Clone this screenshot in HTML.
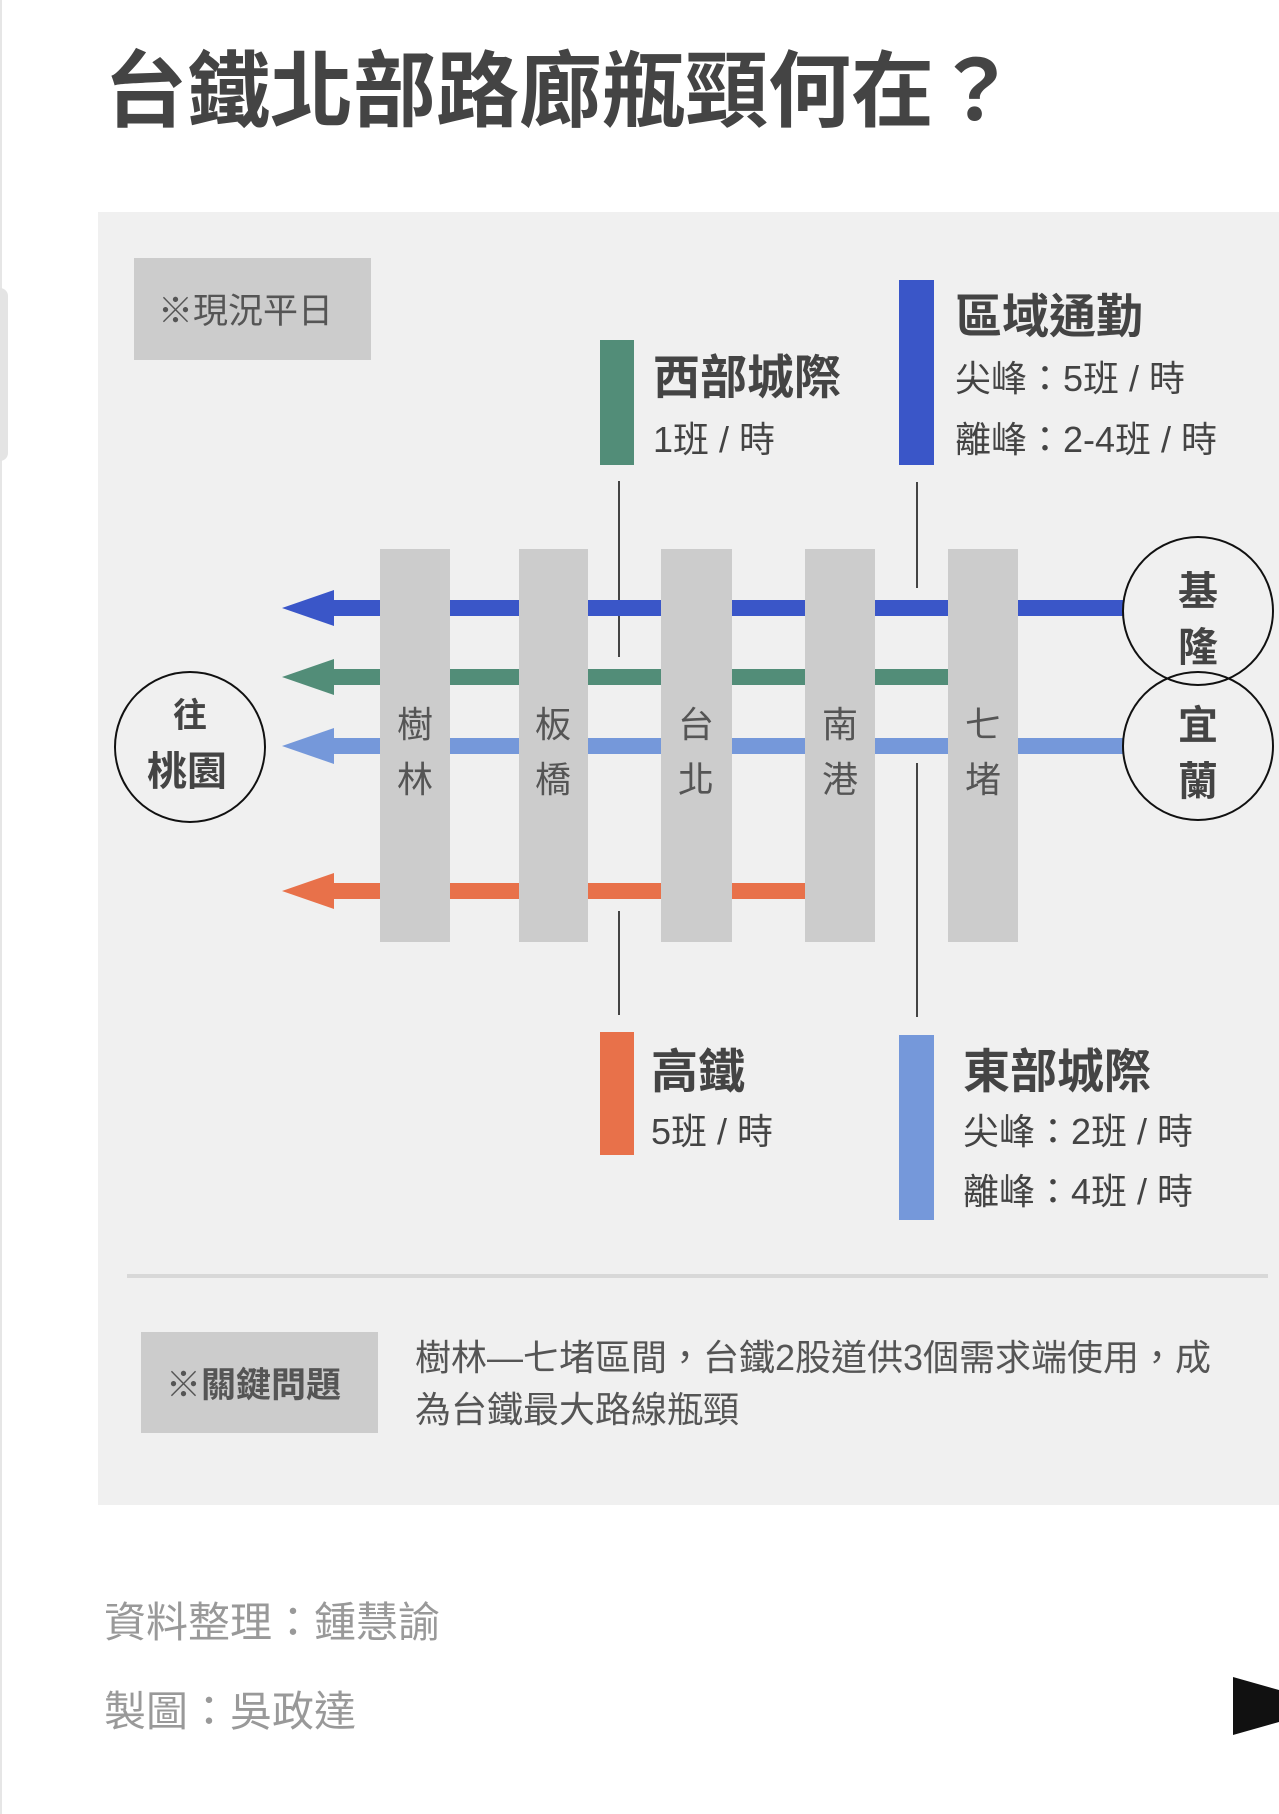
<!DOCTYPE html>
<html><head><meta charset="utf-8"><style>
body{margin:0;width:1279px;height:1814px;background:#fff;position:relative;overflow:hidden;font-family:"Liberation Sans","Noto Sans CJK TC",sans-serif;color:#444}
.a{position:absolute}
.t{position:absolute;white-space:nowrap;line-height:1}
</style></head><body>
<div class="a" style="left:0;top:0;width:2px;height:1814px;background:#e6e6e6"></div>
<div class="a" style="left:0;top:288px;width:8px;height:173px;background:#e4e4e4;border-radius:0 8px 8px 0"></div>
<div class="t" style="left:104px;top:50px;font-size:83px;font-weight:bold;color:#444">台鐵北部路廊瓶頸何在？</div>
<div class="a" style="left:98px;top:212px;width:1181px;height:1293px;background:#f0f0f0"></div>
<div class="a" style="left:134px;top:258px;width:237px;height:102px;background:#cccccc"></div>
<div class="t" style="left:158px;top:294px;font-size:35px;color:#555">※現況平日</div>
<svg class="a" style="left:0;top:0" width="1279" height="1814">
<g stroke="#444" stroke-width="2">
<line x1="619" y1="481" x2="619" y2="657"/><line x1="917" y1="482" x2="917" y2="588"/>
<line x1="619" y1="911" x2="619" y2="1015"/><line x1="917" y1="763" x2="917" y2="1017"/>
</g>
<rect x="332" y="600" width="792" height="16" fill="#3a56c8"/><polygon points="282,608 334,590 334,626" fill="#3a56c8"/>
<rect x="332" y="669" width="616" height="16" fill="#528d78"/><polygon points="282,677 334,659 334,695" fill="#528d78"/>
<rect x="332" y="738" width="792" height="16" fill="#7598da"/><polygon points="282,746 334,728 334,764" fill="#7598da"/>
<rect x="332" y="883" width="473" height="16" fill="#e8714a"/><polygon points="282,891 334,873 334,909" fill="#e8714a"/>
<g fill="#cccccc">
<rect x="380" y="549" width="70" height="393"/><rect x="519" y="549" width="69" height="393"/><rect x="661" y="549" width="71" height="393"/><rect x="805" y="549" width="70" height="393"/><rect x="948" y="549" width="70" height="393"/>
</g>
<g fill="none" stroke="#111" stroke-width="2">
<ellipse cx="190" cy="747" rx="75" ry="75"/>
<ellipse cx="1198" cy="611" rx="75" ry="74"/>
<ellipse cx="1198" cy="746" rx="75" ry="74"/>
</g>
<rect x="600" y="340" width="34" height="125" fill="#528d78"/>
<rect x="899" y="280" width="35" height="185" fill="#3a56c8"/>
<rect x="600" y="1032" width="34" height="123" fill="#e8714a"/>
<rect x="899" y="1035" width="35" height="185" fill="#7598da"/>
<rect x="127" y="1274" width="1141" height="4" fill="#d8d8d8"/>
<polygon points="1233,1677 1279,1690 1279,1722 1233,1735" fill="#111"/>
</svg>
<div class="t" style="left:173px;top:699px;font-size:34px;font-weight:bold">往</div>
<div class="t" style="left:147px;top:752px;font-size:40px;font-weight:bold">桃園</div>
<div class="t" style="left:1178px;top:564px;font-size:40px;font-weight:bold;line-height:56px;width:40px;white-space:normal">基隆</div>
<div class="t" style="left:1178px;top:698px;font-size:40px;font-weight:bold;line-height:56px;width:40px;white-space:normal">宜蘭</div>
<div class="t" style="left:397px;top:697px;font-size:36px;line-height:55px;width:37px;white-space:normal;color:#555">樹林</div>
<div class="t" style="left:535px;top:697px;font-size:36px;line-height:55px;width:37px;white-space:normal;color:#555">板橋</div>
<div class="t" style="left:678px;top:697px;font-size:36px;line-height:55px;width:37px;white-space:normal;color:#555">台北</div>
<div class="t" style="left:822px;top:697px;font-size:36px;line-height:55px;width:37px;white-space:normal;color:#555">南港</div>
<div class="t" style="left:965px;top:697px;font-size:36px;line-height:55px;width:37px;white-space:normal;color:#555">七堵</div>
<div class="t" style="left:653px;top:354px;font-size:47px;font-weight:bold">西部城際</div>
<div class="t" style="left:653px;top:422px;font-size:36px">1班 / 時</div>
<div class="t" style="left:955px;top:293px;font-size:47px;font-weight:bold">區域通勤</div>
<div class="t" style="left:955px;top:361px;font-size:36px">尖峰：5班 / 時</div>
<div class="t" style="left:955px;top:422px;font-size:36px">離峰：2-4班 / 時</div>
<div class="t" style="left:651px;top:1048px;font-size:47px;font-weight:bold">高鐵</div>
<div class="t" style="left:651px;top:1114px;font-size:36px">5班 / 時</div>
<div class="t" style="left:963px;top:1048px;font-size:47px;font-weight:bold">東部城際</div>
<div class="t" style="left:963px;top:1114px;font-size:36px">尖峰：2班 / 時</div>
<div class="t" style="left:963px;top:1174px;font-size:36px">離峰：4班 / 時</div>
<div class="a" style="left:141px;top:1332px;width:237px;height:101px;background:#cccccc"></div>
<div class="t" style="left:166px;top:1368px;font-size:35px;font-weight:bold;color:#555">※關鍵問題</div>
<div class="t" style="left:415px;top:1340px;font-size:36px;color:#555">樹林—七堵區間，台鐵2股道供3個需求端使用，成</div>
<div class="t" style="left:415px;top:1392px;font-size:36px;color:#555">為台鐵最大路線瓶頸</div>
<div class="t" style="left:104px;top:1602px;font-size:42px;color:#999">資料整理：鍾慧諭</div>
<div class="t" style="left:104px;top:1691px;font-size:42px;color:#999">製圖：吳政達</div>
</body></html>
